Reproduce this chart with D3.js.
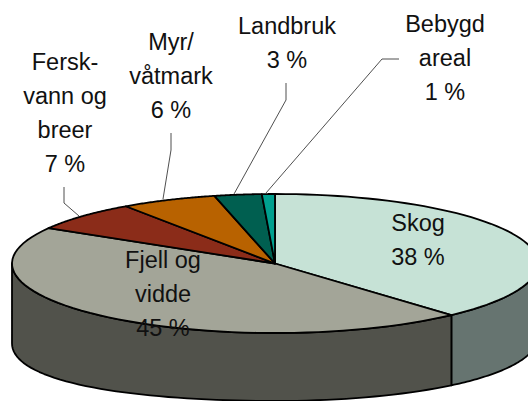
<!DOCTYPE html>
<html><head><meta charset="utf-8">
<script src="https://cdn.jsdelivr.net/npm/d3@7/dist/d3.min.js"></script>
<style>html,body{margin:0;padding:0;background:#fff}svg{display:block}text{font-family:"Liberation Sans",Arial,sans-serif;font-size:23.5px;fill:#111}</style>
</head><body><svg width="528" height="401"></svg>
<script>
const categories=[["Skog","38 %"],["Fjell og","vidde","45 %"],["Fersk-","vann og","breer","7 %"],["Myr/","våtmark","6 %"],["Landbruk","3 %"],["Bebygd","areal","1 %"]];
const values=[38.3,45.2,6.9,5.9,2.9,0.8];
const topColors=["#C6E2D6","#A3A598","#8B2C19","#B86200","#005F50","#00A08F"];
const sideColors=["#667470","#51524B","#451610","#5C3100","#003028","#005048"];
const labelX=[418,163,65,171,287,445];
const labelY=[231,268,70,50,34,32];
const leaders=[null,null,[[79,216],[64,203],[64,187]],[[163,199],[171,150],[171,133]],[[234,194],[286,100],[286,83]],[[266,193],[382,59],[399,59]]];
const svg=d3.select("svg");
const cx=275,cy=263.5,rx=263,ry=69.5;
const x=d3.scaleLinear().domain([-1,1]).range([cx-rx,cx+rx]);
const y=d3.scaleLinear().domain([-1,1]).range([cy-ry,cy+ry]);
const arcs=d3.pie().sort(null)(values);
const px=a=>x(Math.sin(a)),py=a=>y(-Math.cos(a));
const depth=a=>68+(a<Math.PI?5:12)*Math.sin(a)**2;
const samples=(a0,a1)=>d3.range(0,61).map(i=>a0+(a1-a0)*i/60);
const line=d3.line();
arcs.forEach((d,i)=>{
  const a0=Math.max(d.startAngle,Math.PI/2),a1=Math.min(d.endAngle,Math.PI*1.5);
  if(a1<=a0)return;
  const s=samples(a0,a1);
  const pts=s.map(a=>[px(a),py(a)]).concat(s.slice().reverse().map(a=>[px(a),py(a)+depth(a)]));
  svg.append("path").attr("d",line(pts)+"Z").attr("fill",sideColors[i]).attr("stroke","#000").attr("stroke-width",1.8).attr("stroke-linejoin","round");
});
arcs.forEach((d,i)=>{
  const pts=[[x(0),y(0)]].concat(samples(d.startAngle,d.endAngle).map(a=>[px(a),py(a)]));
  svg.append("path").attr("d",line(pts)+"Z").attr("fill",topColors[i]).attr("stroke","#000").attr("stroke-width",1.8).attr("stroke-linejoin","round");
});
leaders.forEach(l=>{if(l)svg.append("path").attr("d",line(l)).attr("fill","none").attr("stroke","#222").attr("stroke-width",.8);});
categories.forEach((lines,i)=>{
  lines.forEach((t,j)=>{
    svg.append("text").attr("x",labelX[i]).attr("y",labelY[i]+j*34).attr("text-anchor","middle").text(t);
  });
});
</script></body></html>
